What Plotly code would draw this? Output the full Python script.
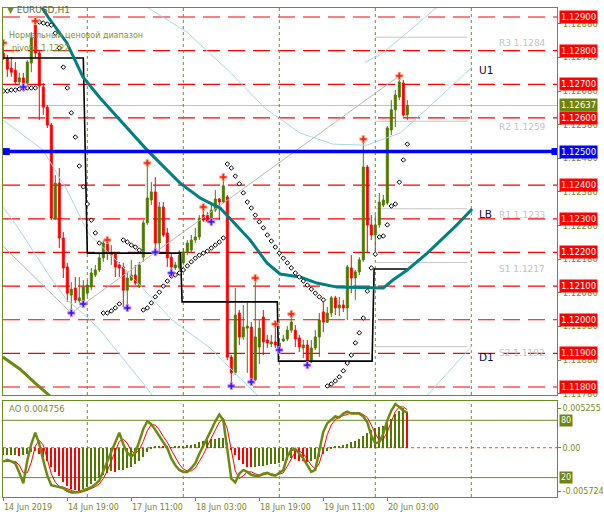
import plotly.graph_objects as go

# ---------------- data ----------------
bar_idx = list(range(102))
open_ = [1.12793,1.12778,1.12748,1.12742,1.12707,1.12719,1.12704,1.12763,1.12876,1.12793,
         1.12692,1.12632,1.12579,1.12302,1.12406,1.12243,1.12157,1.12073,1.12094,1.12056,
         1.12053,1.12079,1.12097,1.12133,1.12148,1.12184,1.12225,1.12192,1.12198,1.12163,
         1.12157,1.12088,1.12118,1.12133,1.12097,1.12186,1.12288,1.12356,1.12380,1.12228,
         1.12335,1.12258,1.12186,1.12154,1.12154,1.12169,1.12201,1.12207,1.12237,1.12246,
         1.12311,1.12311,1.12293,1.12326,1.12359,1.12350,1.12365,1.11889,1.11842,1.12020,
         1.11949,1.11975,1.11978,1.11821,1.11919,1.12008,1.11940,1.11928,1.11934,1.11919,
         1.11937,1.11943,1.11969,1.11969,1.11946,1.11916,1.11925,1.11874,1.11916,1.11949,
         1.12023,1.11993,1.12020,1.12065,1.12035,1.12044,1.12035,1.12154,1.12124,1.12142,
         1.12178,1.12454,1.12282,1.12252,1.12282,1.12341,1.12347,1.12564,1.12624,1.12662,
         1.12704,1.12609]
high = [1.12823,1.12787,1.12781,1.12766,1.12734,1.12734,1.12772,1.12855,1.12888,1.12802,
        1.12704,1.12638,1.12585,1.12430,1.12451,1.12261,1.12169,1.12112,1.12127,1.12127,
        1.12118,1.12118,1.12154,1.12163,1.12198,1.12237,1.12237,1.12222,1.12201,1.12172,
        1.12169,1.12139,1.12178,1.12163,1.12172,1.12296,1.12466,1.12409,1.12424,1.12350,
        1.12350,1.12273,1.12198,1.12172,1.12207,1.12213,1.12237,1.12252,1.12273,1.12311,
        1.12335,1.12320,1.12341,1.12386,1.12362,1.12424,1.12371,1.11895,1.12094,1.12029,
        1.12044,1.12050,1.11993,1.12124,1.11999,1.12029,1.11955,1.11955,1.11987,1.11946,
        1.11955,1.11981,1.12017,1.11984,1.11955,1.11940,1.11940,1.11940,1.11969,1.12020,
        1.12053,1.12038,1.12071,1.12071,1.12068,1.12059,1.12163,1.12192,1.12148,1.12186,
        1.12537,1.12460,1.12311,1.12311,1.12377,1.12371,1.12576,1.12653,1.12683,1.12725,
        1.12713,1.12653]
low = [1.12772,1.12722,1.12722,1.12698,1.12698,1.12692,1.12698,1.12736,1.12778,1.12594,
       1.12609,1.12570,1.12296,1.12296,1.12213,1.12124,1.12053,1.12020,1.12050,1.12050,
       1.12047,1.12071,1.12088,1.12127,1.12142,1.12172,1.12178,1.12163,1.12127,1.12127,
       1.12038,1.12035,1.12115,1.12103,1.12094,1.12172,1.12282,1.12341,1.12201,1.12198,
       1.12246,1.12157,1.12139,1.12148,1.12148,1.12163,1.12192,1.12201,1.12228,1.12237,
       1.12291,1.12288,1.12291,1.12320,1.12296,1.12347,1.11880,1.11803,1.11836,1.11925,
       1.11940,1.11842,1.11815,1.11818,1.11868,1.11895,1.11916,1.11919,1.11916,1.11910,
       1.11934,1.11937,1.11961,1.11919,1.11904,1.11886,1.11865,1.11871,1.11910,1.11889,
       1.11963,1.11990,1.12008,1.12014,1.12011,1.12023,1.11999,1.12079,1.12059,1.12133,
       1.12172,1.12198,1.12237,1.12201,1.12273,1.12335,1.12341,1.12549,1.12573,1.12653,
       1.12604,1.12594]
close = [1.12778,1.12745,1.12736,1.12707,1.12719,1.12704,1.12766,1.12838,1.12793,1.12695,
         1.12632,1.12579,1.12302,1.12406,1.12243,1.12154,1.12079,1.12091,1.12059,1.12065,
         1.12097,1.12103,1.12139,1.12148,1.12184,1.12228,1.12201,1.12198,1.12157,1.12154,
         1.12088,1.12124,1.12133,1.12109,1.12163,1.12288,1.12362,1.12380,1.12228,1.12335,
         1.12252,1.12184,1.12157,1.12163,1.12192,1.12201,1.12228,1.12237,1.12246,1.12302,
         1.12296,1.12293,1.12326,1.12359,1.12350,1.12398,1.11889,1.11842,1.12014,1.11949,
         1.11978,1.11981,1.11821,1.11949,1.11975,1.11934,1.11931,1.11934,1.11925,1.11931,
         1.11943,1.11969,1.11993,1.11943,1.11919,1.11925,1.11874,1.11916,1.11949,1.11999,
         1.11993,1.12020,1.12065,1.12035,1.12044,1.12035,1.12157,1.12124,1.12142,1.12178,
         1.12454,1.12282,1.12252,1.12282,1.12350,1.12356,1.12570,1.12624,1.12668,1.12707,
         1.12609,1.12637]

sar = [1.12680,1.12680,1.12683,1.12683,1.12686,1.12686,1.12689,1.12689,1.12689,1.12885,
       1.12882,1.12879,1.12876,1.12852,1.12808,1.12751,1.12689,1.12615,1.12543,1.12457,
       1.12395,1.12344,1.12296,1.12258,1.12228,1.12020,1.12020,1.12026,1.12035,1.12047,
       1.12237,1.12231,1.12222,1.12216,1.12207,1.12029,1.12035,1.12050,1.12068,1.12082,
       1.12100,1.12115,1.12130,1.12133,1.12139,1.12148,1.12160,1.12172,1.12183,1.12192,
       1.12198,1.12204,1.12213,1.12222,1.12231,1.12243,1.12463,1.12451,1.12427,1.12404,
       1.12377,1.12350,1.12332,1.12311,1.12291,1.12273,1.12252,1.12234,1.12216,1.12198,
       1.12183,1.12169,1.12154,1.12139,1.12127,1.12115,1.12103,1.12091,1.12079,1.12068,
       1.12059,1.11803,1.11809,1.11818,1.11830,1.11848,1.11871,1.11895,1.11931,1.11961,
       1.12005,1.12085,1.12154,1.12195,1.12246,1.12249,1.12282,1.12338,1.12344,1.12409,
       1.12475,1.12522]

fractal_up_idx = [0, 8, 26, 36, 50, 55, 63, 68, 72, 90, 99]
fractal_dn_idx = [5, 17, 20, 31, 38, 42, 52, 57, 62, 69, 76]

ma_idx = [8.4, 11.2, 15.9, 19.9, 24.2, 35.9, 44.2, 49.2, 54.2, 57.4, 61.7, 65.9, 69.2,
          74.2, 78.4, 83.4, 91.0, 95.0, 97.4, 101.0, 106.0, 113.4, 117.2]
ma_val = [1.12951, 1.12900, 1.12823, 1.12722, 1.12659, 1.12505, 1.12406, 1.12362, 1.12332,
          1.12291, 1.12237, 1.12169, 1.12136, 1.12127, 1.12109, 1.12097, 1.12094, 1.12094,
          1.12118, 1.12148, 1.12198, 1.12282, 1.12329]

band_up2_idx = [90.4, 94.2, 101.7, 109.7]
band_up2_val = [1.12766, 1.12787, 1.12861, 1.12942]
band_up_idx = [34.2, 45.9, 56.7, 65.4, 74.2, 82.4, 90.9, 99.2, 102.9, 117.2]
band_up_val = [1.12942, 1.12855, 1.12736, 1.12629, 1.12555, 1.12522, 1.12519, 1.12555, 1.12594, 1.12751]
band_dn_idx = [-0.1, 9.9, 15.9, 21.2, 29.9, 42.2, 51.7, 61.7, 63.7]
band_dn_val = [1.12594, 1.12505, 1.12386, 1.12258, 1.12157, 1.11999, 1.11916, 1.11797, 1.11773]
band_dn2_idx = [-0.1, 2.4, 11.7, 15.9, 20.9, 24.2, 35.9, 37.4]
band_dn2_val = [1.12335, 1.12296, 1.12127, 1.12059, 1.12008, 1.11969, 1.11797, 1.11773]
band_d1_idx = [104.9, 117.2]
band_d1_val = [1.11761, 1.11922]

olive_idx = [-0.1, 4.2, 7.9, 11.7]
olive_val = [1.11889, 1.11853, 1.11812, 1.11773]

trend_a_idx = [-0.1, 17]
trend_a_val = [1.12219, 1.12020]
trend_b_idx = [17, 99]
trend_b_val = [1.12020, 1.12725]

step_idx = [-0.5, 20, 21, 44.3, 44.7, 68.5, 68.8, 92.2, 92.7, 101]
step_val = [1.12778, 1.12778, 1.12198, 1.12198, 1.12053, 1.12053, 1.11877, 1.11877, 1.12151, 1.12151]

red_levels = [1.1290, 1.1280, 1.1270, 1.1260, 1.1240, 1.1230, 1.1220, 1.1210, 1.1200, 1.1190, 1.1180]
blue_level = 1.1250
bid = 1.12637
pivot_names = ["R3", "R2", "R1", "S1", "S2"]
pivot_vals = [1.1284, 1.1259, 1.1233, 1.1217, 1.1192]
pivot_from, pivot_to = 93, 116
price_ticks = [1.1178, 1.1188, 1.1198, 1.1208, 1.1218, 1.1228, 1.1238, 1.1248, 1.1258, 1.1268, 1.1278, 1.1288]

day_sep_idx = [21, 45, 69, 93, 117]
date_idx = [0, 16, 32, 48, 64, 80, 96]
date_text = ["14 Jun 2019", "14 Jun 19:00", "17 Jun 11:00", "18 Jun 03:00",
             "18 Jun 19:00", "19 Jun 11:00", "20 Jun 03:00"]

ao = [-0.0010,-0.0010,-0.0010,-0.0010,-0.0011,-0.0010,-0.0008,-0.0006,-0.0004,-0.0008,
      -0.0012,-0.0018,-0.0026,-0.0032,-0.0038,-0.0045,-0.0050,-0.0054,-0.0056,-0.005724,
      -0.0055,-0.0052,-0.0048,-0.0044,-0.0040,-0.0036,-0.0033,-0.0031,-0.0032,-0.0030,
      -0.0029,-0.0027,-0.0025,-0.0022,-0.0017,-0.0012,-0.0006,-0.0002,0.0001,0.0002,
      0.00015,0.0001,0.00005,0.0001,0.00015,0.0002,0.0003,0.0004,0.0005,0.0007,
      0.0009,0.0010,0.0011,0.0012,0.0013,0.00135,0.0006,-0.0003,-0.0010,-0.0016,
      -0.0021,-0.0025,-0.0026,-0.0025,-0.0024,-0.0024,-0.0023,-0.0022,-0.0021,-0.0020,
      -0.0018,-0.0016,-0.0014,-0.0015,-0.0017,-0.0018,-0.0019,-0.0018,-0.0015,-0.0012,
      -0.0008,-0.0004,-0.0001,0.0001,0.0002,0.0003,0.0005,0.0007,0.0009,0.0011,
      0.0015,0.0019,0.0023,0.0026,0.0028,0.0029,0.0033,0.0038,0.0044,0.0049,
      0.005255,0.004756]
stoch_main = [36.7,38.5,37,35,25,14,38,55,67,55,
              38,22,12,11,10,9,6,4.5,4.5,5,
              6.5,8.5,10,13,17,27,37,48,58,67,
              55,46,42,46,58,71,79,76,70,63,
              57,51,40,33,28,26,26,30,35,45,
              53,61,70,79,86,80,47,19,15,24,
              28,26,23,22,22,24,25,23,22,25,
              28,42,49,50,45,40,33,26,28,50,
              68,77,81,84,83,87,89,87,87,87,
              84,78,64,56,57,66,80,90,97,94,
              90,88]
stoch_signal = [37,37,37.5,37,33,25,25,36,53,59,
                54,39,24,15,11,10,8.5,6.5,5,4.7,
                5.3,6.7,8.3,10.5,13.3,19,27,37,48,58,
                60,56,48,45,49,58,69,75.5,75,70,
                63,57,49,41,34,29,27,27,30,37,
                44,53,61,70,78,82,71,49,27,19,
                22,26,26,24,22.5,23,24,24,23,23.5,
                25,32,40,47,48,45,39,33,29,35,
                49,65,75,81,83,85,86,88,88,88,
                86,83,75,66,59,60,68,79,89,94,
                94,91]
stoch_levels = [80, 20]
ao_ticks = [0.005255, 0.0, -0.005724]
ao_ticktext = ["0.005255", "0.00", "-0.005724"]

# ---------------- style / layout ----------------
W, H = 604, 518
L, R, T, B = 3, 47, 8, 21
PW, PH = W - L - R, H - T - B
BULL = "#4f7a00"
BEAR = "#ff0000"
OLIVE = "#6b8e23"
TXT = "#7a8a1a"
FONT = "DejaVu Sans"

def pxx(px):
    return (px - L) / PW

def pyy(py):
    return (H - B - py) / PH

main_dom = [pyy(395), 1.0]
ao_dom = [0.0, pyy(401)]
xr = [(L - 3.3) / 4, (W - R - 3.3) / 4]

fig = go.Figure()

def line(xs, ys, color, width, dash=None, xa="x", ya="y"):
    fig.add_trace(go.Scatter(x=xs, y=ys, mode="lines", xaxis=xa, yaxis=ya,
                             line=dict(color=color, width=width, dash=dash),
                             hoverinfo="skip", showlegend=False))

for xs, ys in [(band_up2_idx, band_up2_val), (band_up_idx, band_up_val),
               (band_dn_idx, band_dn_val), (band_dn2_idx, band_dn2_val),
               (band_d1_idx, band_d1_val)]:
    line(xs, ys, "#a8d8e6", 1)
line(trend_a_idx, trend_a_val, "#b8b8b8", 1)
line(trend_b_idx, trend_b_val, "#b8b8b8", 1)
line(olive_idx, olive_val, "#6b8a10", 3)
line(step_idx, step_val, "#000000", 1.6)

fig.add_trace(go.Candlestick(
    x=bar_idx, open=open_, high=high, low=low, close=close,
    increasing=dict(line=dict(color=BULL, width=1), fillcolor=BULL),
    decreasing=dict(line=dict(color=BEAR, width=1), fillcolor=BEAR),
    whiskerwidth=0, xaxis="x", yaxis="y", showlegend=False, hoverinfo="skip"))

line(ma_idx, ma_val, "#008080", 3)

fig.add_trace(go.Scatter(x=bar_idx, y=sar, mode="markers", xaxis="x", yaxis="y",
                         marker=dict(symbol="diamond", size=3.5, color="white",
                                     line=dict(color="black", width=1)),
                         hoverinfo="skip", showlegend=False))
fig.add_trace(go.Scatter(x=fractal_up_idx, y=[high[i] for i in fractal_up_idx], mode="markers",
                         xaxis="x", yaxis="y",
                         marker=dict(symbol="cross", size=6, color="#ff2020",
                                     line=dict(color="#ffb080", width=0.8)),
                         hoverinfo="skip", showlegend=False))
fig.add_trace(go.Scatter(x=fractal_dn_idx, y=[low[i] for i in fractal_dn_idx], mode="markers",
                         xaxis="x", yaxis="y",
                         marker=dict(symbol="cross", size=6, color="#1030ff",
                                     line=dict(color="#ff80ff", width=0.8)),
                         hoverinfo="skip", showlegend=False))
fig.add_trace(go.Scatter(x=[xr[0] + 0.8, xr[1] - 0.5], y=[blue_level, blue_level], mode="markers",
                         xaxis="x", yaxis="y",
                         marker=dict(symbol="square", size=7, color="#0000ff"),
                         hoverinfo="skip", showlegend=False))
fig.add_trace(go.Scatter(x=[xr[0] + 0.8, xr[1] - 0.5], y=[blue_level, blue_level], mode="markers",
                         xaxis="x", yaxis="y",
                         marker=dict(symbol="square", size=2, color="#ffffff"),
                         hoverinfo="skip", showlegend=False))

ao_colors = [BULL if (i == 0 or ao[i] >= ao[i - 1]) else BEAR for i in range(len(ao))]
fig.add_trace(go.Bar(x=bar_idx, y=ao, width=0.28, marker=dict(color=ao_colors, line=dict(width=0)),
                     xaxis="x2", yaxis="y3", hoverinfo="skip", showlegend=False))
line(bar_idx, stoch_signal, "#ff0000", 1, xa="x2", ya="y4")
line(bar_idx, stoch_main, "#6b8a10", 2.5, xa="x2", ya="y4")

shapes = []
for lv in red_levels:
    shapes.append(dict(type="line", xref="x domain", yref="y", x0=0, x1=1, y0=lv, y1=lv,
                       line=dict(color="#ff0000", width=1.2, dash="17px,8px"), layer="below"))
shapes.append(dict(type="line", xref="x domain", yref="y", x0=0, x1=1, y0=bid, y1=bid,
                   line=dict(color="#c0c0c0", width=1), layer="below"))
for pv in pivot_vals:
    shapes.append(dict(type="line", xref="x", yref="y", x0=pivot_from, x1=pivot_to, y0=pv, y1=pv,
                       line=dict(color="#c8c8c8", width=1), layer="below"))
shapes.append(dict(type="line", xref="x domain", yref="y", x0=0, x1=1, y0=blue_level, y1=blue_level,
                   line=dict(color="#0000ff", width=3.5), layer="above"))
for d in day_sep_idx:
    shapes.append(dict(type="line", xref="x", yref="y domain", x0=d, x1=d, y0=0, y1=1,
                       line=dict(color=OLIVE, width=1, dash="3px,3px"), layer="below"))
    shapes.append(dict(type="line", xref="x2", yref="y3 domain", x0=d, x1=d, y0=0, y1=1,
                       line=dict(color=OLIVE, width=1, dash="3px,3px"), layer="below"))
for lv in stoch_levels:
    shapes.append(dict(type="line", xref="x2 domain", yref="y4", x0=0, x1=1, y0=lv, y1=lv,
                       line=dict(color=OLIVE, width=1), layer="below"))
shapes.append(dict(type="line", xref="x2 domain", yref="y3", x0=0, x1=1, y0=0, y1=0,
                   line=dict(color="#ff4500", width=1, dash="3px,3px"), layer="below"))

ann = []
for lv in red_levels:
    ann.append(dict(x=1, xref="paper", xanchor="left", xshift=2, y=lv, yref="y", yanchor="middle",
                    text=f"{lv:.5f}", showarrow=False, bgcolor="#ff0000", borderpad=1,
                    font=dict(family=FONT, size=8.5, color="white")))
ann.append(dict(x=1, xref="paper", xanchor="left", xshift=2, y=blue_level, yref="y", yanchor="middle",
                text=f"{blue_level:.5f}", showarrow=False, bgcolor="#0000ff", borderpad=1,
                font=dict(family=FONT, size=8.5, color="white")))
ann.append(dict(x=1, xref="paper", xanchor="left", xshift=2, y=bid, yref="y", yanchor="middle",
                text=f"{bid:.5f}", showarrow=False, bgcolor="#6e8410", borderpad=1,
                font=dict(family=FONT, size=8.5, color="white")))
for lv in stoch_levels:
    ann.append(dict(x=1, xref="paper", xanchor="left", xshift=2, y=lv, yref="y4", yanchor="middle",
                    text=str(lv), showarrow=False, bgcolor="#6e8410", borderpad=1,
                    font=dict(family=FONT, size=8, color="white")))
for nm, pv in zip(pivot_names, pivot_vals):
    ann.append(dict(x=123.4, xref="x", xanchor="left", y=pv, yref="y", yanchor="middle", yshift=-6,
                    text=f"{nm} {pv:.4f}", showarrow=False,
                    font=dict(family=FONT, size=9, color="#c4c4c4")))
for txt, pv in [("U1", 1.12742), ("LB", 1.12314), ("D1", 1.11889)]:
    ann.append(dict(x=118.4, xref="x", xanchor="left", y=pv, yref="y", yanchor="middle",
                    text=txt, showarrow=False, font=dict(family=FONT, size=10.5, color="#10103a")))
for di, dt in zip(date_idx, date_text):
    ann.append(dict(x=di, xref="x2", xanchor="left", xshift=-1, y=pyy(507), yref="paper",
                    yanchor="middle", text=dt, showarrow=False,
                    font=dict(family=FONT, size=8, color=TXT)))
ann.append(dict(x=pxx(5), xref="paper", xanchor="left", y=pyy(10), yref="paper", yanchor="middle",
                text='<span style="color:#6b8e23">▼</span> EURUSD,H1', showarrow=False,
                font=dict(family=FONT, size=9, color="#5f6e3a")))
ann.append(dict(x=pxx(7), xref="paper", xanchor="left", y=pyy(36), yref="paper", yanchor="middle",
                text="Нормальный ценовой диапазон", showarrow=False,
                font=dict(family=FONT, size=8, color="#7f9428")))
ann.append(dict(x=pxx(10), xref="paper", xanchor="left", y=pyy(48), yref="paper", yanchor="middle",
                text="pivot= 1,1222", showarrow=False,
                font=dict(family=FONT, size=8, color="#7f9428")))
ann.append(dict(x=pxx(7), xref="paper", xanchor="left", y=pyy(409), yref="paper", yanchor="middle",
                text="AO 0.004756", showarrow=False,
                font=dict(family=FONT, size=8.5, color=TXT)))

axis_common = dict(showgrid=False, zeroline=False, showline=True, mirror=True,
                   linecolor=OLIVE, linewidth=1)
fig.update_layout(
    width=W, height=H, margin=dict(l=L, r=R, t=T, b=B, autoexpand=False),
    paper_bgcolor="white", plot_bgcolor="white", showlegend=False,
    bargap=0, shapes=shapes, annotations=ann,
    xaxis=dict(domain=[0, 1], anchor="y", range=xr, showticklabels=False, ticks="",
               rangeslider=dict(visible=False), **axis_common),
    yaxis=dict(domain=main_dom, anchor="x", side="right", range=[1.117762, 1.129268],
               tickvals=price_ticks, ticktext=[f"{v:.5f}" for v in price_ticks],
               ticks="outside", ticklen=3, tickcolor=OLIVE,
               tickfont=dict(family=FONT, size=8.5, color=TXT), **axis_common),
    xaxis2=dict(domain=[0, 1], anchor="y3", range=xr, matches="x", showticklabels=False,
                ticks="outside", ticklen=3, tickcolor=OLIVE, tickvals=date_idx,
                rangeslider=dict(visible=False), **axis_common),
    yaxis3=dict(domain=ao_dom, anchor="x2", side="right", range=[-0.006518, 0.006181],
                tickvals=ao_ticks, ticktext=ao_ticktext, ticks="outside", ticklen=3,
                tickcolor=OLIVE, tickfont=dict(family=FONT, size=8, color=TXT), **axis_common),
    yaxis4=dict(domain=ao_dom, anchor="x2", overlaying="y3", side="right", range=[-0.3, 100.2],
                visible=False, showgrid=False, zeroline=False),
)

fig.write_html("out.html", config={"displayModeBar": False},
               post_script="document.body.style.margin='0';document.body.style.overflow='hidden';")
